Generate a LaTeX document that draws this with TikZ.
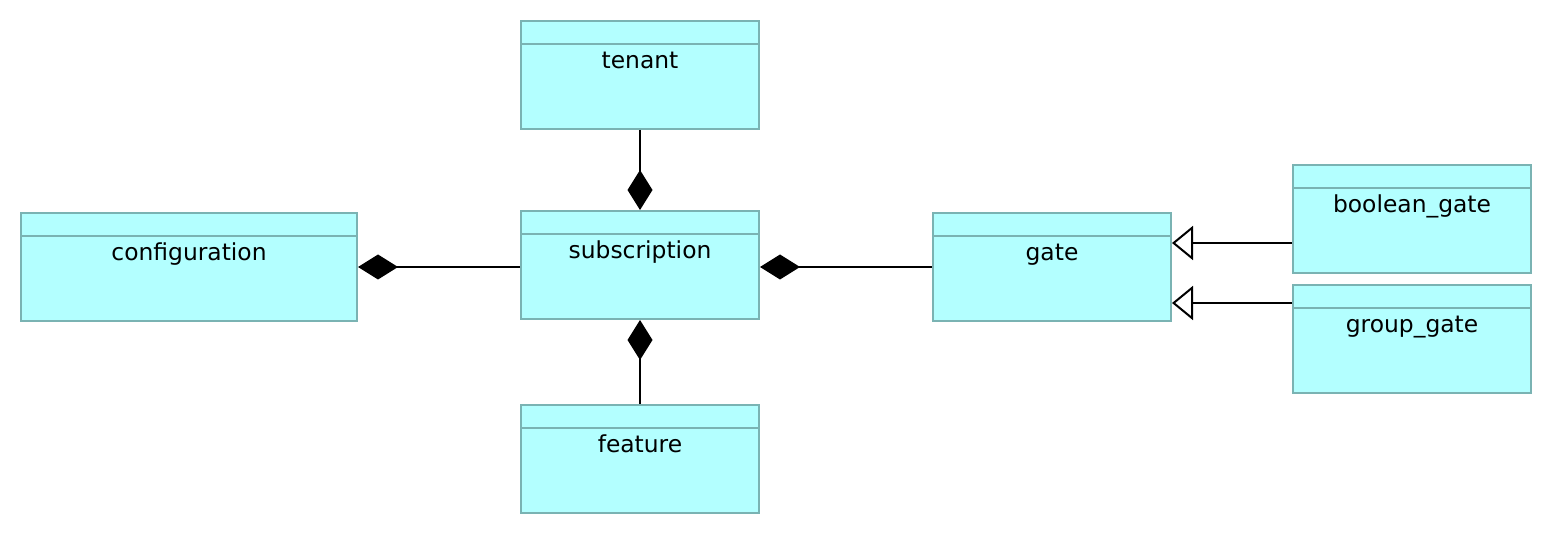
\documentclass[tikz,border=0pt]{standalone}
\usepackage{fontspec}
\setmainfont{DejaVu Sans}
\usepackage{tikz}
\usetikzlibrary{arrows.meta,calc}
\definecolor{boxfill}{HTML}{B3FFFF}
\definecolor{boxline}{HTML}{7AB3B3}

\begin{document}
\begin{tikzpicture}[x = 0.5pt, y = -0.5pt,
	classbox/.style = {draw = boxline, fill = boxfill, line width = 1pt, minimum width = #1*0.5pt, minimum height = 54pt, inner sep = 0pt},
	classname/.style = {anchor = base, font = \fontsize{11.7}{14}\selectfont},
	owns/.style = {line width = 1pt, -{Diamond[length = 20pt, width = 12.5pt]}},
	isa/.style = {line width = 1pt, -{Triangle[open, fill = white, length = 10.5pt, width = 17pt]}}]
	\useasboundingbox[fill = white] (0,0) rectangle (1552,534);

	% classes
	\node[classbox = 238] (tenant) at (640,75) {};
	\node[classbox = 336] (configuration) at (189,267) {};
	\node[classbox = 238] (subscription) at (640,265) {};
	\node[classbox = 238] (feature) at (640,459) {};
	\node[classbox = 238] (gate) at (1052,267) {};
	\node[classbox = 238] (boolean_gate) at (1412,219) {};
	\node[classbox = 238] (group_gate) at (1412,339) {};

	\foreach \c in {tenant, configuration, subscription, feature, gate, boolean_gate, group_gate}
	{
		\draw[draw = boxline, line width = 1pt] ($(\c.north west)+(0,24)$) -- ($(\c.north east)+(0,24)$);
		\node[classname] (\c-name) at ($(\c.north)+(0,48.5)$) {\detokenize\expandafter{\c}};
	}

	% composition
	\draw[owns] (tenant.south) -- (subscription.north);
	\draw[owns] (feature.north) -- (subscription.south);
	\draw[owns] (subscription.west |- configuration.east) -- (configuration.east);
	\draw[owns] (gate.west) -- (subscription.east |- gate.west);

	% generalisation
	\draw[isa] ($(boolean_gate.west)+(0,24)$) -- ($(gate.east)+(0,-24)$);
	\draw[isa] ($(group_gate.west)+(0,-36)$) -- ($(gate.east)+(0,36)$);
\end{tikzpicture}
\end{document}
